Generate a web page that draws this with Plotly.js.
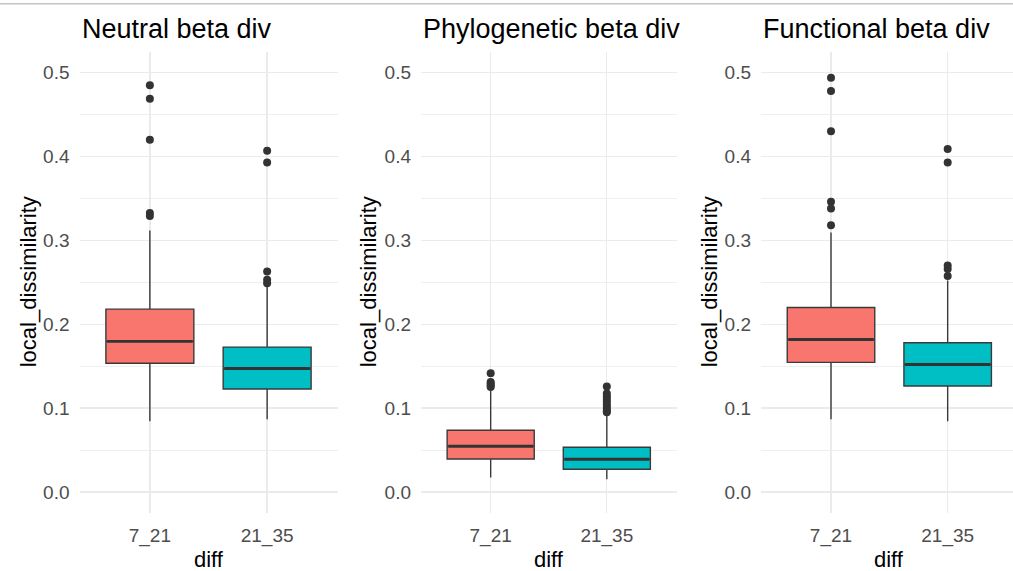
<!DOCTYPE html>
<html>
<head>
<meta charset="utf-8">
<script src="https://cdn.plot.ly/plotly-3.0.1.min.js"></script>
<style>html,body{margin:0;padding:0;background:#fff;}#chart{width:1013px;height:571px;}</style>
</head>
<body>
<div id="chart"></div>
<script>
// ---- data ----
const categories = ["7_21", "21_35"];
const panelTitles = ["Neutral beta div", "Phylogenetic beta div", "Functional beta div"];
const fillColors = ["#F8766D", "#00BFC4"];
const yTickVals = [0.0, 0.1, 0.2, 0.3, 0.4, 0.5];

// Neutral beta div
const neutralQ1 = [0.1535, 0.1228];
const neutralMedian = [0.1795, 0.1472];
const neutralQ3 = [0.2180, 0.1727];
const neutralLower = [0.0844, 0.0866];
const neutralUpper = [0.3117, 0.2460];
const neutralOut_7_21 = [0.485, 0.469, 0.420, 0.3325, 0.329];
const neutralOut_21_35 = [0.407, 0.393, 0.263, 0.253, 0.249];

// Phylogenetic beta div
const phyloQ1 = [0.0392, 0.0271];
const phyloMedian = [0.0545, 0.0390];
const phyloQ3 = [0.0735, 0.0533];
const phyloLower = [0.0173, 0.0152];
const phyloUpper = [0.1220, 0.0925];
const phyloOut_7_21 = [0.1415, 0.131, 0.129, 0.127, 0.125];
const phyloOut_21_35 = [0.1256, 0.1175, 0.114, 0.111, 0.108, 0.105, 0.102, 0.099, 0.0965, 0.0950];

// Functional beta div
const funcQ1 = [0.1545, 0.1264];
const funcMedian = [0.1818, 0.1520];
const funcQ3 = [0.2200, 0.1780];
const funcLower = [0.0866, 0.0844];
const funcUpper = [0.3095, 0.2520];
const funcOut_7_21 = [0.494, 0.478, 0.430, 0.346, 0.338, 0.318];
const funcOut_21_35 = [0.409, 0.393, 0.270, 0.266, 0.2576];

// ---- build ----
const W = 1013, H = 571;
const panels = [
  {q1: neutralQ1, med: neutralMedian, q3: neutralQ3, lo: neutralLower, hi: neutralUpper, out: [neutralOut_7_21, neutralOut_21_35]},
  {q1: phyloQ1, med: phyloMedian, q3: phyloQ3, lo: phyloLower, hi: phyloUpper, out: [phyloOut_7_21, phyloOut_21_35]},
  {q1: funcQ1, med: funcMedian, q3: funcQ3, lo: funcLower, hi: funcUpper, out: [funcOut_7_21, funcOut_21_35]}
];
// panel pixel geometry
const domainsPx = [[79.5, 337.5], [421, 676.5], [761, 1013]];
const xRanges = [[-0.6, 1.6], [-0.6, 1.6], [-0.6, 1.56]];
const yTitleX = [28, 368, 709];
const plotTopPx = 51.7, plotBotPx = 512.9;
const boxW = 0.75;

const font = "Liberation Sans, Arial, sans-serif";
const traces = [];
const layout = {
  width: W, height: H,
  margin: {l: 0, r: 0, t: 0, b: 0},
  paper_bgcolor: "#ffffff", plot_bgcolor: "#ffffff",
  showlegend: false, hovermode: false,
  font: {family: font},
  annotations: [], shapes: []
};

const px2x = p => p / W;
const px2y = p => 1 - p / H;

panels.forEach((p, k) => {
  const sfx = k === 0 ? "" : String(k + 1);
  const xa = "x" + sfx, ya = "y" + sfx;
  categories.forEach((c, i) => {
    traces.push({
      type: "box", xaxis: xa, yaxis: ya,
      x: [i], q1: [p.q1[i]], median: [p.med[i]], q3: [p.q3[i]],
      lowerfence: [p.lo[i]], upperfence: [p.hi[i]],
      width: boxW, whiskerwidth: 0, boxpoints: false,
      fillcolor: fillColors[i],
      line: {color: "#3a3a3a", width: 1.4},
      hoverinfo: "skip"
    });
  });
  categories.forEach((c, i) => {
    traces.push({
      type: "scatter", mode: "lines", xaxis: xa, yaxis: ya,
      x: [i - boxW / 2 + 0.01, i + boxW / 2 - 0.01], y: [p.med[i], p.med[i]],
      line: {color: "#333333", width: 2.8}, hoverinfo: "skip"
    });
  });
  categories.forEach((c, i) => {
    traces.push({
      type: "scatter", mode: "markers", xaxis: xa, yaxis: ya,
      x: p.out[i].map(() => i), y: p.out[i],
      marker: {color: "#333333", size: 8, line: {width: 0}}, hoverinfo: "skip"
    });
  });

  layout["xaxis" + sfx] = {
    domain: [px2x(domainsPx[k][0]), px2x(domainsPx[k][1])],
    anchor: ya, range: xRanges[k], type: "linear",
    tickvals: categories.map((c, i) => i), ticktext: categories,
    showgrid: true, gridcolor: "#EBEBEB", gridwidth: 1.3,
    zeroline: false, showline: false, ticks: "",
    ticklabelstandoff: 9,
    tickfont: {family: font, size: 19, color: "#4D4D4D"}
  };
  layout["yaxis" + sfx] = {
    domain: [px2y(plotBotPx), px2y(plotTopPx)],
    anchor: xa, range: [-0.025, 0.525],
    tickvals: yTickVals, tickformat: ".1f",
    showgrid: true, gridcolor: "#EBEBEB", gridwidth: 1.3,
    minor: {dtick: 0.05, tick0: 0, showgrid: true, gridcolor: "#EFEFEF", gridwidth: 1},
    zeroline: false, showline: false, ticks: "",
    ticklabelstandoff: 9,
    tickfont: {family: font, size: 19, color: "#4D4D4D"}
  };

  // panel title
  layout.annotations.push({
    xref: "paper", yref: "paper", x: px2x(domainsPx[k][0]), y: px2y(28.5),
    xanchor: "left", yanchor: "middle", showarrow: false,
    text: panelTitles[k], font: {family: font, size: 27, color: "#000000"}
  });
  // y title
  layout.annotations.push({
    xref: "paper", yref: "paper", x: px2x(yTitleX[k]), y: px2y((plotTopPx + plotBotPx) / 2),
    xanchor: "center", yanchor: "middle", showarrow: false, textangle: -90,
    text: "local_dissimilarity", font: {family: font, size: 22, color: "#000000"}
  });
  // x title
  layout.annotations.push({
    xref: xa, yref: "paper", x: 0.5, y: px2y(559),
    xanchor: "center", yanchor: "middle", showarrow: false,
    text: "diff", font: {family: font, size: 22, color: "#000000"}
  });
});

// thin grey border at the very top of the image
layout.shapes.push({
  type: "line", xref: "paper", yref: "paper", x0: 0, x1: 1, y0: px2y(3.8), y1: px2y(3.8),
  line: {color: "#C4C4C4", width: 1.4}, layer: "above"
});

Plotly.newPlot("chart", traces, layout, {staticPlot: true, displayModeBar: false});
</script>
</body>
</html>
